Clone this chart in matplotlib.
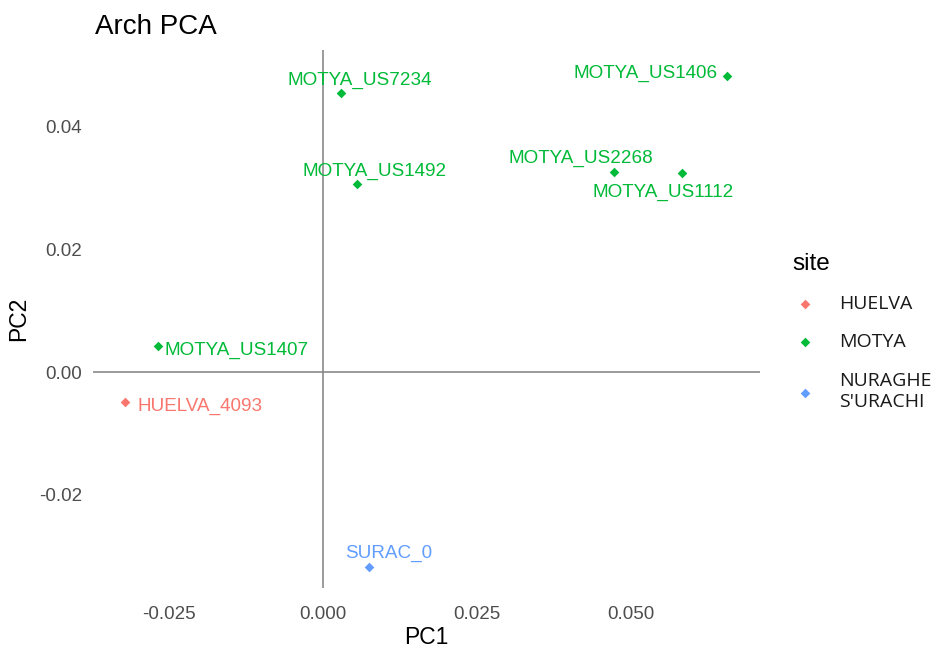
import matplotlib.pyplot as plt

# data
sample = ["MOTYA_US7234", "MOTYA_US1406", "MOTYA_US1492", "MOTYA_US2268",
          "MOTYA_US1112", "MOTYA_US1407", "HUELVA_4093", "SURAC_0"]
site = ["MOTYA", "MOTYA", "MOTYA", "MOTYA", "MOTYA", "MOTYA", "HUELVA",
        "NURAGHE\nS'URACHI"]
pc1 = [0.0029, 0.0656, 0.0055, 0.0472, 0.0583, -0.0268, -0.0321, 0.0075]
pc2 = [0.0455, 0.0483, 0.0306, 0.0326, 0.0324, 0.0042, -0.0049, -0.0318]
sites = ["HUELVA", "MOTYA", "NURAGHE\nS'URACHI"]
site_colors = ["#F8766D", "#00BA38", "#619CFF"]

# label offsets in pixels (repel-like placement)
offsets = [(19, 13), (-82, 2), (18, 13), (-33, 14), (-19, -19), (79, -4),
           (75, -4), (20, 14)]

col = dict(zip(sites, site_colors))

plt.rcParams['font.family'] = ['Liberation Sans', 'DejaVu Sans']
fig = plt.figure(figsize=(9.38, 6.47), dpi=100)
ax = fig.add_axes([93 / 938, 1 - 588 / 647, 667 / 938, 538 / 647])

ax.axhline(0, color="#8a8a8a", lw=1.2, zorder=1)
ax.axvline(0, color="#8a8a8a", lw=1.2, zorder=1)

for s in sites:
    xs = [x for x, g in zip(pc1, site) if g == s]
    ys = [y for y, g in zip(pc2, site) if g == s]
    ax.scatter(xs, ys, marker="D", s=24, color=col[s], label=s, zorder=3,
               linewidths=0)

for name, x, y, g, off in zip(sample, pc1, pc2, site, offsets):
    ax.annotate(name, (x, y), xytext=off, textcoords="offset pixels",
                ha="center", va="center", fontsize=13.6, color=col[g])

ax.set_xlim(-0.0373, 0.0709)
ax.set_ylim(-0.0352, 0.0525)
ax.set_xticks([-0.025, 0.0, 0.025, 0.05])
ax.set_xticklabels(["-0.025", "0.000", "0.025", "0.050"])
ax.set_yticks([-0.02, 0.0, 0.02, 0.04])
ax.set_yticklabels(["-0.02", "0.00", "0.02", "0.04"])
ax.tick_params(length=0, labelsize=13.5, colors="#4D4D4D")
ax.tick_params(axis="x", pad=13)
ax.tick_params(axis="y", pad=8)
for sp in ax.spines.values():
    sp.set_visible(False)

ax.set_xlabel("PC1", fontsize=16.5, labelpad=2)
ax.set_ylabel("PC2", fontsize=16.5, labelpad=6)
fig.text(95 / 938, 1 - 27 / 647, "Arch PCA", fontsize=20, va="center")

leg = ax.legend(title="site", loc="upper left",
                bbox_to_anchor=(777 / 938, 1 - 237 / 647),
                bbox_transform=fig.transFigure,
                frameon=False, title_fontsize=17.5, borderpad=0.8,
                handlelength=1.3, handletextpad=1.1, labelspacing=1.05,
                borderaxespad=0, prop={"family": "Open Sans", "size": 14})
leg._legend_box.align = "left"
for t in leg.get_texts():
    t.set_color("#1a1a1a")

fig.savefig("out.png", dpi=100)
